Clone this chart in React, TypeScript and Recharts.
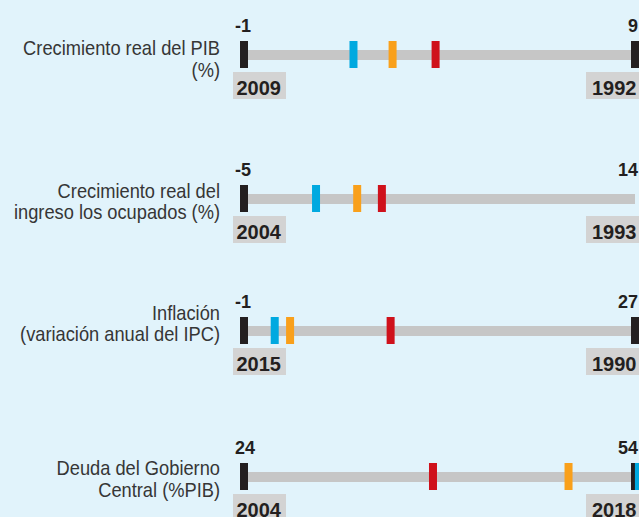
import { ComposedChart, Bar, Line, XAxis, YAxis, ReferenceDot } from 'recharts'

// one row per indicator
const indicators = [
  'Crecimiento real del PIB\n(%)',
  'Crecimiento real del\ningreso los ocupados (%)',
  'Inflación\n(variación anual del IPC)',
  'Deuda del Gobierno\nCentral (%PIB)',
]
const minValues = [-1, -5, -1, 24]
const maxValues = [9, 14, 27, 54]
const minYears = ['2009', '2004', '2015', '2004']
const maxYears = ['1992', '1993', '1990', '2018']
const showMaxMarker = [true, false, true, true]
const blueValues = [1.8, -1.5, 1.2, 54.3]
const orangeValues = [2.8, 0.5, 2.3, 48.9]
const redValues = [3.9, 1.7, 9.5, 38.5]

const BG = '#e1f3fb'
const INK = '#231f20'
const TRACK = '#c6c6c6'
const YEAR_BOX = '#d3d3d3'
const BLUE = '#00a9e0'
const ORANGE = '#f9a01b'
const RED = '#cf111b'

const LABEL_FONT = "'Liberation Sans', Arial, sans-serif"
const NUM_FONT = "'Liberation Sans', Arial, sans-serif"

// vertical centre of each track in the picture, and where its label starts
const rowCenters = [54.5, 199, 331, 476.5]
const labelShift = [0.5, -1, -11, -1.5]
const ROW_H = 110

const marker = (color: string) => (props: any) => {
  const { cx, cy } = props
  return <rect x={cx - 4} y={cy - 14} width={8} height={27} fill={color} />
}

const endDot = (side: 'min' | 'max') => (props: any) => {
  const { cx, cy, payload } = props
  if (cx == null || cy == null) return <g key={side} />
  const isMin = side === 'min'
  const value = isMin ? payload.min : payload.max
  const year = isMin ? payload.minYear : payload.maxYear
  const boxX = isMin ? cx - 11 : cx - 49
  return (
    <g key={side}>
      {(isMin || payload.showMax) && (
        <rect x={cx - 4} y={cy - 14} width={8} height={27} fill={INK} />
      )}
      <text
        x={isMin ? cx - 9 : cx + 3}
        y={cy - 23}
        textAnchor={isMin ? 'start' : 'end'}
        fontFamily={NUM_FONT}
        fontWeight={700}
        fontSize={18}
        fill={INK}
      >
        {value}
      </text>
      <rect x={boxX} y={cy + 17} width={53} height={27} fill={YEAR_BOX} />
      <text
        x={isMin ? boxX + 3.5 : boxX + 50.5}
        y={cy + 40}
        textAnchor={isMin ? 'start' : 'end'}
        fontFamily={NUM_FONT}
        fontWeight={700}
        fontSize={20}
        fill={INK}
      >
        {year}
      </text>
    </g>
  )
}

function RowLabel(props: any) {
  const { y, payload, row } = props
  const lines = String(payload.value).split('\n')
  const top = y + labelShift[row]
  // squeeze horizontally to get the narrow look of the original
  return (
    <text
      x={220}
      y={top}
      textAnchor="end"
      fontFamily={LABEL_FONT}
      fontSize={21}
      fill="#363636"
      transform="translate(220 0) scale(0.87 1) translate(-220 0)"
    >
      {lines.map((line, i) => (
        <tspan key={i} x={220} y={top + i * 21.5}>
          {line}
        </tspan>
      ))}
    </text>
  )
}

function Row({ i }: { i: number }) {
  const name = indicators[i]
  const data = [
    {
      name,
      span: [minValues[i], maxValues[i]],
      min: minValues[i],
      max: maxValues[i],
      minYear: minYears[i],
      maxYear: maxYears[i],
      showMax: showMaxMarker[i],
    },
  ]
  return (
    <div style={{ position: 'absolute', left: 0, top: rowCenters[i] - ROW_H / 2 }}>
      <ComposedChart
        width={652}
        height={ROW_H}
        layout="vertical"
        data={data}
        margin={{ top: 0, right: 5, bottom: 0, left: 0 }}
      >
        <XAxis
          type="number"
          domain={[minValues[i], maxValues[i]]}
          padding={{ left: 12, right: 12 }}
          hide
        />
        <YAxis
          type="category"
          dataKey="name"
          width={232}
          axisLine={false}
          tickLine={false}
          interval={0}
          tick={<RowLabel row={i} />}
        />
        <Bar dataKey="span" fill={TRACK} barSize={10} isAnimationActive={false} />
        <Line dataKey="min" stroke="none" dot={endDot('min')} activeDot={false} isAnimationActive={false} />
        <Line dataKey="max" stroke="none" dot={endDot('max')} activeDot={false} isAnimationActive={false} />
        <ReferenceDot x={redValues[i]} y={name} ifOverflow="visible" shape={marker(RED)} />
        <ReferenceDot x={orangeValues[i]} y={name} ifOverflow="visible" shape={marker(ORANGE)} />
        <ReferenceDot x={blueValues[i]} y={name} ifOverflow="visible" shape={marker(BLUE)} />
      </ComposedChart>
    </div>
  )
}

export default function App() {
  return (
    <div
      style={{
        position: 'absolute',
        left: 0,
        top: 0,
        width: 639,
        height: 517,
        overflow: 'hidden',
        background: BG,
      }}
    >
      {indicators.map((_, i) => (
        <Row key={i} i={i} />
      ))}
    </div>
  )
}
